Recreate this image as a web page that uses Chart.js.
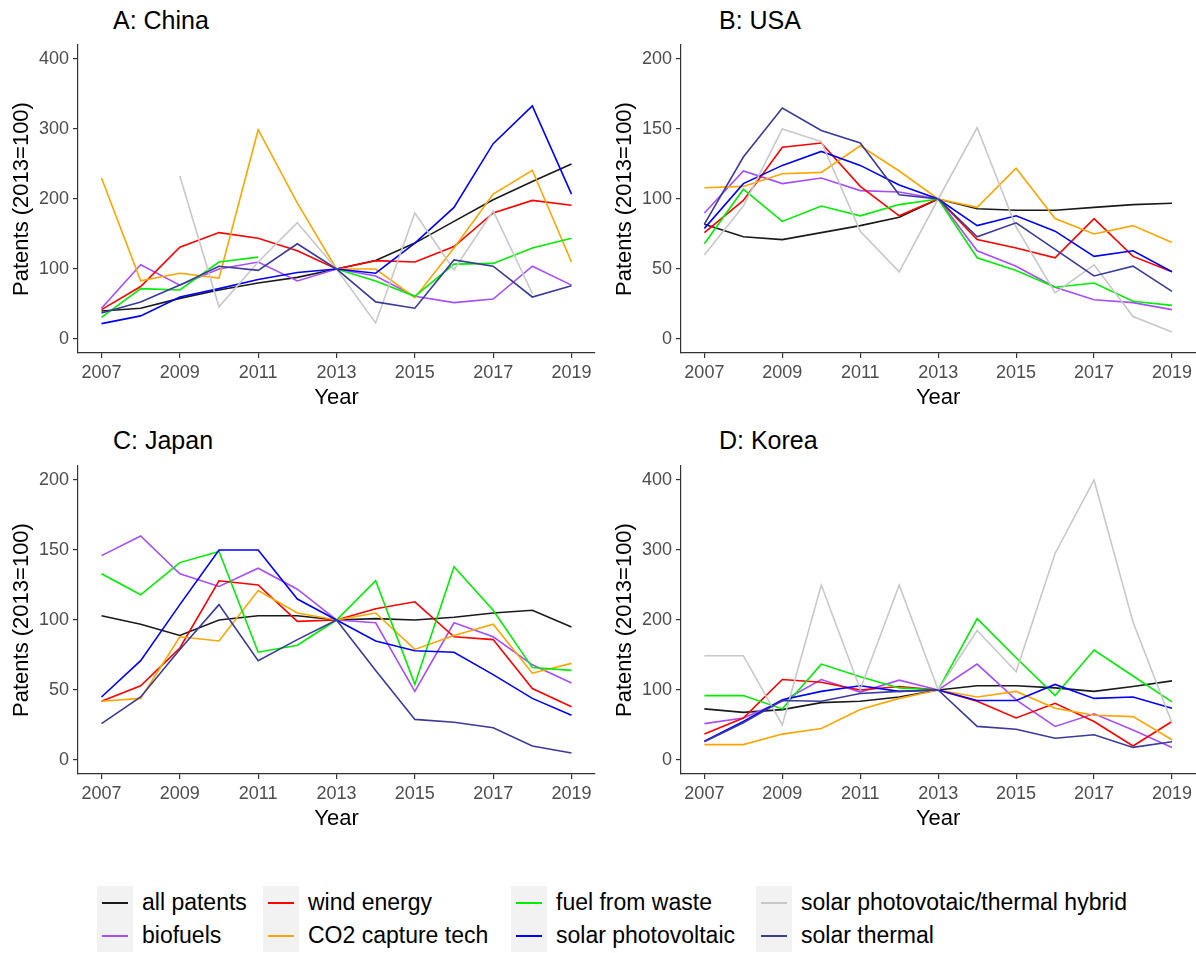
<!DOCTYPE html>
<html>
<head>
<meta charset="utf-8">
<script src="https://cdn.jsdelivr.net/npm/chart.js@4.4.1/dist/chart.umd.min.js"></script>
<style>
  body { margin: 0; background: #fff; width: 1196px; height: 953px; position: relative; overflow: hidden;
         font-family: "Liberation Sans", Arial, sans-serif; }
  canvas { position: absolute; }
  .ptitle { position: absolute; font-size: 25px; line-height: 28px; color: #000; white-space: nowrap; }
  .lcol { position: absolute; top: 886px; }
  .lrow { height: 33px; display: flex; align-items: center; }
  .lkey { width: 36px; height: 33px; background: #f2f2f2; position: relative; flex: none; }
  .lkey i { position: absolute; left: 5px; right: 5px; top: 16px; height: 2px; }
  .ltxt { margin-left: 9px; font-size: 23px; color: #000; white-space: nowrap; }
</style>
</head>
<body>
<div class="ptitle" style="left:113px; top:6px;">A: China</div>
<div class="ptitle" style="left:719px; top:6px;">B: USA</div>
<div class="ptitle" style="left:113px; top:426px;">C: Japan</div>
<div class="ptitle" style="left:719px; top:426px;">D: Korea</div>
<canvas id="cA" width="605" height="420" style="left:0; top:0;"></canvas>
<canvas id="cB" width="593" height="420" style="left:603px; top:0;"></canvas>
<canvas id="cC" width="605" height="420" style="left:0; top:421px;"></canvas>
<canvas id="cD" width="593" height="420" style="left:603px; top:421px;"></canvas>
<div id="legend"></div>
<script>
// years and ticks
const years = [2007, 2008, 2009, 2010, 2011, 2012, 2013, 2014, 2015, 2016, 2017, 2018, 2019];
const xTicks = [2007, 2009, 2011, 2013, 2015, 2017, 2019];
const yTicks400 = [0, 100, 200, 300, 400];
const yTicks200 = [0, 50, 100, 150, 200];

const seriesNames = ["all patents", "biofuels", "wind energy", "CO2 capture tech",
  "fuel from waste", "solar photovoltaic", "solar photovotaic/thermal hybrid", "solar thermal"];
const seriesColors = ["#1a1a1a", "#a64dff", "#ff0000", "#ffa500",
  "#00ee00", "#0000ff", "#c8c8c8", "#3a3a9a"];

// A: China
const chinaAll     = [40, 44, 58, 70, 80, 88, 100, 112, 137, 168, 199, 225, 250];
const chinaBio     = [44, 106, 77, 100, 110, 83, 100, 90, 61, 52, 57, 104, 77];
const chinaWind    = [42, 75, 131, 152, 144, 126, 100, 112, 110, 132, 180, 198, 191];
const chinaCo2     = [230, 83, 94, 87, 299, 194, 100, 100, 59, 130, 207, 241, 110];
const chinaWaste   = [31, 72, 70, 110, 117, null, 100, 83, 61, 107, 108, 130, 144];
const chinaPv      = [22, 33, 60, 72, 85, 95, 100, 94, 137, 188, 279, 333, 207];
const chinaHybrid  = [null, null, 233, 46, 110, 166, 100, 23, 180, 99, 183, 65, null];
const chinaThermal = [37, 53, 77, 104, 98, 136, 100, 53, 44, 113, 104, 60, 76];

// B: USA
const usaAll     = [82, 73, 71, 76, 81, 87, 100, 93, 92, 92, 94, 96, 97];
const usaBio     = [90, 120, 111, 115, 106, 105, 100, 63, 52, 37, 28, 26, 21];
const usaWind    = [76, 99, 137, 140, 109, 88, 100, 71, 65, 58, 86, 59, 48];
const usaCo2     = [108, 109, 118, 119, 138, 120, 100, 94, 122, 86, 75, 81, 69];
const usaWaste   = [68, 107, 84, 95, 88, 96, 100, 58, 49, 37, 40, 27, 24];
const usaPv      = [79, 111, 124, 134, 124, 110, 100, 81, 88, 77, 59, 63, 48];
const usaHybrid  = [60, 95, 150, 141, 77, 48, 100, 151, 80, 33, 53, 16, 5];
const usaThermal = [82, 130, 165, 149, 140, 103, 100, 73, 83, 64, 45, 52, 34];

// C: Japan
const japanAll     = [103, 97, 89, 100, 103, 103, 100, 101, 100, 102, 105, 107, 95];
const japanBio     = [146, 160, 133, 124, 137, 122, 100, 98, 49, 98, 88, 68, 55];
const japanWind    = [42, 53, 80, 128, 125, 99, 100, 108, 113, 88, 86, 51, 38];
const japanCo2     = [42, 44, 88, 85, 121, 105, 100, 105, 79, 89, 97, 62, 69];
const japanWaste   = [133, 118, 141, 149, 77, 82, 100, 128, 54, 138, 107, 66, 64];
const japanPv      = [45, 71, 111, 150, 150, 115, 100, 85, 78, 77, 61, 44, 32];
const japanHybrid  = [null, null, null, null, null, null, null, null, null, null, null, null, null];
const japanThermal = [26, 45, 79, 111, 71, 86, 100, 64, 29, 27, 23, 10, 5];

// D: Korea
const koreaAll     = [73, 68, 72, 82, 84, 90, 100, 106, 106, 103, 98, 105, 113];
const koreaBio     = [52, 60, 84, 115, 97, 114, 100, 137, 86, 48, 66, 43, 18];
const koreaWind    = [37, 60, 115, 111, 100, 105, 100, 84, 60, 81, 55, 20, 55];
const koreaCo2     = [22, 22, 37, 45, 72, 88, 100, 90, 98, 74, 64, 62, 29];
const koreaWaste   = [92, 92, 73, 137, 119, 103, 100, 202, 146, 92, 157, 120, 83];
const koreaPv      = [27, 55, 86, 98, 106, 98, 100, 85, 85, 108, 88, 90, 74];
const koreaHybrid  = [149, 149, 50, 250, 101, 250, 100, 185, 126, 295, 400, 197, 53];
const koreaThermal = [26, 53, 85, 84, 95, 98, 100, 48, 44, 31, 36, 18, 26];

Chart.defaults.font.family = '"Liberation Sans", Arial, sans-serif';

function lagePanel(id, series, yMin, yMax, yTicks, padRight) {
  const datasets = series.map((vals, i) => ({
    label: seriesNames[i],
    data: years.map((y, k) => ({ x: y, y: vals[k] })),
    borderColor: seriesColors[i],
    borderWidth: 1.6,
    pointRadius: 0,
    tension: 0,
    spanGaps: false,
    order: series.length - i
  }));
  new Chart(document.getElementById(id), {
    type: "line",
    data: { datasets: datasets },
    options: {
      responsive: false,
      animation: false,
      layout: { padding: { top: 45, right: padRight, bottom: 7, left: 0 } },
      plugins: { legend: { display: false }, tooltip: { enabled: false } },
      scales: {
        x: {
          type: "linear", min: 2006.4, max: 2019.6,
          afterBuildTicks: s => { s.ticks = xTicks.map(v => ({ value: v })); },
          afterFit: s => { s.height = 60; },
          ticks: { callback: v => String(v), color: "#4d4d4d", font: { size: 18 }, padding: 4, maxRotation: 0, autoSkip: false },
          grid: { drawOnChartArea: false, drawTicks: true, tickLength: 5, color: "#333", lineWidth: 1.2 },
          border: { display: true, color: "#333", width: 1.2 },
          title: { display: true, text: "Year", color: "#000", font: { size: 22 }, padding: { top: 0, bottom: 2 } }
        },
        y: {
          min: yMin, max: yMax,
          afterBuildTicks: s => { s.ticks = yTicks.map(v => ({ value: v })); },
          afterFit: s => { s.width = 78; },
          ticks: { color: "#4d4d4d", font: { size: 18 }, padding: 4 },
          grid: { drawOnChartArea: false, drawTicks: true, tickLength: 5, color: "#333", lineWidth: 1.2 },
          border: { display: true, color: "#333", width: 1.2 },
          title: { display: true, text: "Patents (2013=100)", color: "#000", font: { size: 22 }, padding: { top: 9, bottom: 0 } }
        }
      }
    }
  });
}

lagePanel("cA", [chinaAll, chinaBio, chinaWind, chinaCo2, chinaWaste, chinaPv, chinaHybrid, chinaThermal], -20, 420, yTicks400, 10);
lagePanel("cB", [usaAll, usaBio, usaWind, usaCo2, usaWaste, usaPv, usaHybrid, usaThermal], -10, 210, yTicks200, 0);
lagePanel("cC", [japanAll, japanBio, japanWind, japanCo2, japanWaste, japanPv, japanHybrid, japanThermal], -10, 210, yTicks200, 10);
lagePanel("cD", [koreaAll, koreaBio, koreaWind, koreaCo2, koreaWaste, koreaPv, koreaHybrid, koreaThermal], -20, 420, yTicks400, 0);

// legend: 4 columns, 2 rows
const legendLeft = [97, 263, 511, 756];
const legend = document.getElementById("legend");
legendLeft.forEach((left, c) => {
  const col = document.createElement("div");
  col.className = "lcol";
  col.style.left = left + "px";
  [2 * c, 2 * c + 1].forEach(i => {
    const row = document.createElement("div");
    row.className = "lrow";
    row.innerHTML = '<span class="lkey"><i style="background:' + seriesColors[i] + '"></i></span>' +
      '<span class="ltxt">' + seriesNames[i] + '</span>';
    col.appendChild(row);
  });
  legend.appendChild(col);
});
</script>
</body>
</html>
